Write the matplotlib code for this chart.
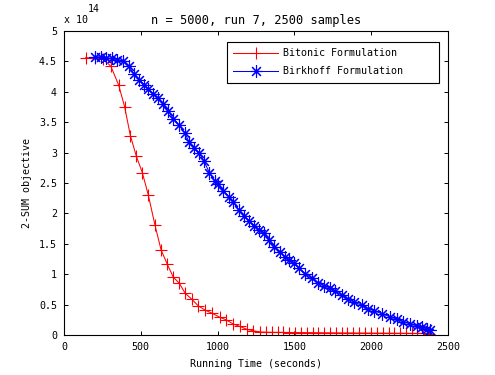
import matplotlib

matplotlib.use("Agg")

import matplotlib.pyplot as plt

plt.rcParams["font.family"] = ["DejaVu Sans Mono"]
plt.rcParams["font.size"] = 7.2

# Bitonic formulation: time (s) and 2-SUM objective (x 1e14)
BITONIC_T = [140, 205, 255, 305, 356, 395, 432, 471, 510, 549, 592, 632, 673, 712,
             751, 788, 831, 874, 918, 962, 1016, 1055, 1102, 1146, 1190, 1232, 1276,
             1315, 1354, 1391, 1428, 1467, 1504, 1541, 1580, 1619, 1656, 1693, 1732,
             1769, 1808, 1844, 1883, 1923, 1960, 1997, 2036, 2075, 2114, 2148, 2188,
             2227, 2263, 2300, 2339, 2378]
BITONIC_Y = [4.56, 4.56, 4.54, 4.42, 4.11, 3.75, 3.28, 2.94, 2.67, 2.30, 1.81, 1.40,
             1.16, 0.95, 0.85, 0.69, 0.59, 0.48, 0.41, 0.36, 0.29, 0.25, 0.18, 0.14,
             0.094, 0.07, 0.05, 0.046, 0.044, 0.043, 0.042, 0.041, 0.040, 0.040, 0.039,
             0.038, 0.037, 0.036, 0.036, 0.035, 0.034, 0.034, 0.033, 0.032, 0.032,
             0.031, 0.030, 0.030, 0.029, 0.028, 0.028, 0.027, 0.026, 0.026, 0.025, 0.024]

# Birkhoff formulation
BIRKHOFF_T = [205, 240, 275, 310, 345, 385, 420, 455, 490, 520, 550, 580, 612, 645,
              680, 712, 750, 785, 815, 846, 880, 910, 946, 983, 1005, 1037, 1076, 1102,
              1141, 1174, 1206, 1239, 1272, 1302, 1335, 1367, 1406, 1439, 1467, 1499,
              1530, 1569, 1612, 1656, 1695, 1730, 1764, 1808, 1851, 1890, 1938, 1981,
              2020, 2068, 2122, 2166, 2209, 2253, 2296, 2330, 2361, 2385]
BIRKHOFF_Y = [4.58, 4.57, 4.56, 4.55, 4.53, 4.50, 4.42, 4.30, 4.20, 4.12, 4.04, 3.97,
              3.90, 3.80, 3.68, 3.56, 3.45, 3.33, 3.17, 3.07, 2.99, 2.87, 2.67, 2.53,
              2.48, 2.37, 2.27, 2.18, 2.05, 1.95, 1.88, 1.80, 1.73, 1.68, 1.57, 1.45,
              1.37, 1.28, 1.24, 1.18, 1.10, 1.01, 0.93, 0.86, 0.81, 0.77, 0.72, 0.66,
              0.59, 0.54, 0.49, 0.43, 0.40, 0.35, 0.30, 0.26, 0.22, 0.18, 0.15, 0.13,
              0.10, 0.08]

X_TICKS = [0, 500, 1000, 1500, 2000, 2500]
Y_TICKS = [0, 0.5, 1, 1.5, 2, 2.5, 3, 3.5, 4, 4.5, 5]
Y_TICK_LABELS = ["0", "0.5", "1", "1.5", "2", "2.5", "3", "3.5", "4", "4.5", "5"]

ASTERISK = (8, 2, 0)  # MATLAB-style '*': eight spokes, no fill


def main() -> None:
    fig = plt.figure(figsize=(4.95, 3.75), dpi=100, facecolor="white")
    ax = fig.add_axes((64 / 495, 40 / 375, 384 / 495, 304 / 375))

    ax.plot(BITONIC_T, BITONIC_Y, color="red", linewidth=0.75, marker="+",
            markersize=9, markeredgewidth=0.8, label="Bitonic Formulation      ")
    ax.plot(BIRKHOFF_T, BIRKHOFF_Y, color="blue", linewidth=0.75, marker=ASTERISK,
            markersize=9, markeredgewidth=0.8, label="Birkhoff Formulation     ")

    ax.set_xlim(0, 2500)
    ax.set_ylim(0, 5)
    ax.set_xticks(X_TICKS)
    ax.set_yticks(Y_TICKS)
    ax.set_yticklabels(Y_TICK_LABELS)
    ax.tick_params(direction="in", length=3, width=0.7, top=True, right=True,
                   pad=5, colors="black")
    for spine in ax.spines.values():
        spine.set_linewidth(0.8)

    ax.set_xlabel("Running Time (seconds)", labelpad=5)
    ax.set_ylabel("2-SUM objective", labelpad=5)
    ax.set_title("n = 5000, run 7, 2500 samples", pad=5)

    fig.text(64 / 495, 1 - 23 / 375, "x 10", ha="left", va="baseline")
    fig.text(88 / 495, 1 - 12 / 375, "14", ha="left", va="baseline")

    leg = ax.legend(loc="upper right", bbox_to_anchor=(439 / 495, 1 - 42 / 375),
                    bbox_transform=fig.transFigure, fancybox=False, framealpha=1,
                    edgecolor="black", handlelength=4.5, borderpad=0.6,
                    labelspacing=0.85, handletextpad=0.5, borderaxespad=0)
    leg.get_frame().set_linewidth(0.8)

    fig.savefig("out.png", dpi=100, facecolor="white")
    plt.close(fig)


if __name__ == "__main__":
    main()
